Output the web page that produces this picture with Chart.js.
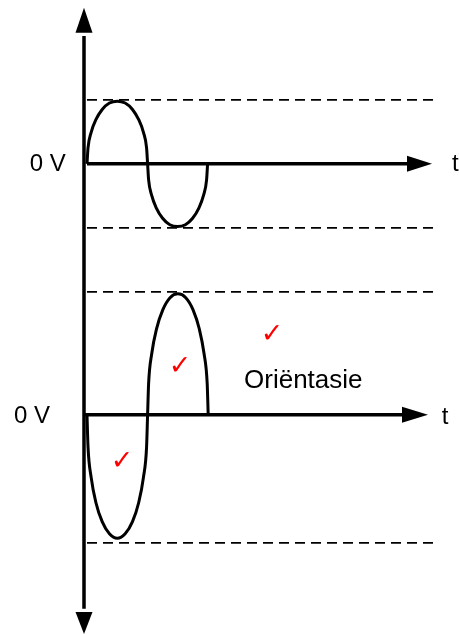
<!DOCTYPE html>
<html>
<head>
<meta charset="utf-8">
<script src="https://cdn.jsdelivr.net/npm/chart.js@4"></script>
<style>
  html, body { margin: 0; padding: 0; background: #fff; }
  #wrap { width: 459px; height: 635px; position: relative; }
</style>
</head>
<body>
<div id="wrap"><canvas id="golfChart"></canvas></div>
<script>
// tyd in halwe periodes, spanning relatief tot elke 0 V-lyn
const topTime = [0, 0.017, 0.068, 0.148, 0.253, 0.374, 0.505, 0.636, 0.758, 0.862, 0.942, 0.993, 1.01,
  1.027, 1.077, 1.156, 1.26, 1.38, 1.51, 1.64, 1.76, 1.864, 1.943, 1.993, 2.01];
const topVolt = [0, 0.25, 0.49, 0.69, 0.85, 0.95, 0.98, 0.95, 0.85, 0.69, 0.49, 0.25, 0,
  -0.25, -0.49, -0.69, -0.85, -0.95, -0.98, -0.95, -0.85, -0.69, -0.49, -0.25, 0];

const botTime = [0, 0.017, 0.068, 0.148, 0.253, 0.374, 0.505, 0.636, 0.758, 0.862, 0.942, 0.993, 1.01,
  1.027, 1.078, 1.158, 1.263, 1.384, 1.515, 1.646, 1.768, 1.872, 1.952, 2.003, 2.02];
const botVolt = [0, -0.5, -0.97, -1.37, -1.67, -1.86, -1.93, -1.86, -1.67, -1.37, -0.97, -0.5, 0,
  0.49, 0.95, 1.34, 1.64, 1.83, 1.89, 1.83, 1.64, 1.34, 0.95, 0.49, 0];

// die twee 0 V-vlakke en die stippellyne (relatief)
const zeroLevels = [0, -3.92];
const topDash = [1, -1];
const botDash = [1.92, -2.0];
const dashEnd = 5.8;

// asse: begin, pylbasis en pylpunt
const timeAxisStart = [0, -0.05];
const timeAxisBase = [5.333, 5.25];
const timeAxisTip = [5.75, 5.683];
const voltAxisX = -0.05;
const voltAxisTips = [2.4375, -7.344];
const voltAxisBases = [2.047, -7.0];

const textLabels = [
  { text: '0 V', x: -0.355, y: -0.008, align: 'right' },
  { text: '0 V', x: -0.617, y: -3.945, align: 'right' },
  { text: 't', x: 6.083, y: -0.011, align: 'left' },
  { text: 't', x: 5.912, y: -3.964, align: 'left' },
  { text: 'Oriëntasie', x: 2.617, y: -3.5, align: 'left', base: 'alphabetic', size: 26 }
];
const checkMarks = [[3.083, -2.672], [1.55, -3.172], [0.583, -4.656]];

const black = '#000';
const pts = (xs, ys, off) => xs.map((x, i) => ({ x: x, y: off + ys[i] }));
const seg = (x0, x1, y, dash, w) => ({
  data: [{ x: x0, y: y }, { x: x1, y: y }],
  borderColor: black, borderWidth: w, borderDash: dash, pointRadius: 0, tension: 0
});

const datasets = [];
topDash.forEach(d => datasets.push(seg(0, dashEnd, zeroLevels[0] + d, [10, 6], 1.8)));
botDash.forEach(d => datasets.push(seg(0, dashEnd, zeroLevels[1] + d, [10, 6], 1.8)));
zeroLevels.forEach((z, i) => datasets.push(seg(timeAxisStart[i], timeAxisBase[i] + 0.05, z, [], 3.5)));
datasets.push({
  data: [{ x: voltAxisX, y: voltAxisBases[0] - 0.05 }, { x: voltAxisX, y: voltAxisBases[1] + 0.05 }],
  borderColor: black, borderWidth: 3.5, pointRadius: 0, tension: 0
});
datasets.push({
  data: pts(topTime, topVolt, zeroLevels[0]),
  borderColor: black, borderWidth: 3, pointRadius: 0, cubicInterpolationMode: 'monotone'
});
datasets.push({
  data: pts(botTime, botVolt, zeroLevels[1]),
  borderColor: black, borderWidth: 3, pointRadius: 0, cubicInterpolationMode: 'monotone'
});

const extras = {
  id: 'extras',
  afterDatasetsDraw(chart) {
    const ctx = chart.ctx;
    const sx = chart.scales.x, sy = chart.scales.y;
    const arrow = (tx, ty, bx, by, hw) => {
      const px = sx.getPixelForValue(tx), py = sy.getPixelForValue(ty);
      const qx = sx.getPixelForValue(bx), qy = sy.getPixelForValue(by);
      const len = Math.hypot(px - qx, py - qy);
      const nx = -(py - qy) / len * hw, ny = (px - qx) / len * hw;
      ctx.beginPath();
      ctx.moveTo(px, py);
      ctx.lineTo(qx + nx, qy + ny);
      ctx.lineTo(qx - nx, qy - ny);
      ctx.closePath();
      ctx.fill();
    };
    ctx.save();
    ctx.fillStyle = black;
    zeroLevels.forEach((z, i) => arrow(timeAxisTip[i], z, timeAxisBase[i], z, 8));
    arrow(voltAxisX, voltAxisTips[0], voltAxisX, voltAxisBases[0], 8.5);
    arrow(voltAxisX, voltAxisTips[1], voltAxisX, voltAxisBases[1], 8.5);

    textLabels.forEach(l => {
      ctx.font = (l.size || 24) + "px 'Liberation Sans', Arial, sans-serif";
      ctx.textAlign = l.align;
      ctx.textBaseline = l.base || 'middle';
      ctx.fillText(l.text, sx.getPixelForValue(l.x), sy.getPixelForValue(l.y));
    });

    ctx.fillStyle = '#ff0000';
    ctx.font = "27px 'DejaVu Sans', sans-serif";
    ctx.textAlign = 'center';
    ctx.textBaseline = 'middle';
    checkMarks.forEach(c => ctx.fillText('✓', sx.getPixelForValue(c[0]), sy.getPixelForValue(c[1])));
    ctx.restore();
  }
};

new Chart(document.getElementById('golfChart'), {
  type: 'scatter',
  data: { datasets: datasets.map(d => Object.assign({ showLine: true, fill: false }, d)) },
  options: {
    responsive: true,
    maintainAspectRatio: false,
    animation: false,
    layout: { padding: 0 },
    plugins: { legend: { display: false }, tooltip: { enabled: false } },
    scales: {
      x: { type: 'linear', min: -1.45, max: 6.2, display: false },
      y: { type: 'linear', min: -7.36, max: 2.56, display: false }
    }
  },
  plugins: [extras]
});
</script>
</body>
</html>
